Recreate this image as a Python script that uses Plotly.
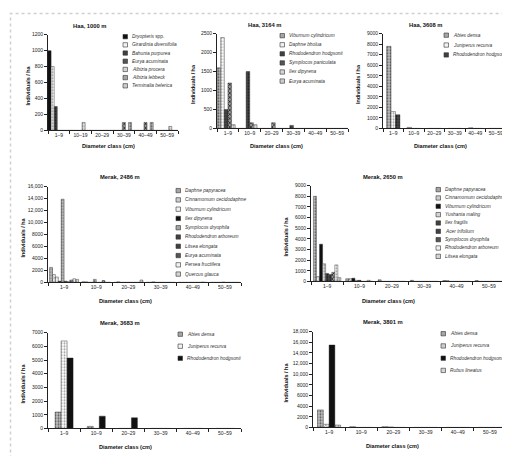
import plotly.graph_objects as go

W, H = 510, 456

# ---------------- data ----------------
cats_haa1000 = ["1–9", "10–19", "20–29", "30–39", "40–49", "50–59"]
cats_merak = ["1–9", "10–9", "20–29", "30–39", "40–49", "50–59"]

haa1000_species = ["<i>Dryopteris</i> spp.", "<i>Girardinia diversifolia</i>", "<i>Bahunia purpurea</i>",
                   "<i>Eurya acuminata</i>", "<i>Albizia procera</i>", "<i>Albizia lebbeck</i>",
                   "<i>Terminalia belerica</i>"]
haa1000_values = [[1000, 0, 0, 0, 0, 0], [800, 0, 0, 0, 0, 0], [300, 0, 0, 0, 0, 0],
                  [0, 0, 0, 100, 100, 0], [0, 100, 0, 0, 0, 50], [0, 0, 0, 100, 100, 0],
                  [0, 0, 0, 0, 0, 0]]
haa1000_styles = ["black", "white", "dark", "checker", "light", "gray", "hatch"]
haa1000_ticks = [0, 200, 400, 600, 800, 1000, 1200]

haa3164_species = ["<i>Viburnum cylindricum</i>", "<i>Daphne bholua</i>", "<i>Rhododendron hodgsonii</i>",
                   "<i>Symplocos paniculata</i>", "<i>Ilex dipyrena</i>", "<i>Eurya acuminata</i>"]
haa3164_values = [[1600, 0, 0, 0, 0, 0], [2400, 0, 0, 0, 0, 0], [500, 1500, 0, 80, 0, 0],
                  [1200, 150, 150, 0, 0, 0], [100, 100, 0, 0, 0, 0], [0, 0, 0, 0, 0, 0]]
haa3164_styles = ["gray", "white", "dark", "checker", "light", "hatch"]
haa3164_ticks = [0, 500, 1000, 1500, 2000, 2500]

haa3608_species = ["<i>Abies densa</i>", "<i>Juniperus recurva</i>", "<i>Rhododendron hodgsonii</i>"]
haa3608_values = [[7800, 100, 0, 0, 60, 0], [1600, 0, 0, 0, 0, 0], [1300, 0, 0, 0, 0, 0]]
haa3608_styles = ["gray", "white", "dark"]
haa3608_ticks = [0, 1000, 2000, 3000, 4000, 5000, 6000, 7000, 8000, 9000]

merak2486_species = ["<i>Daphne papyracea</i>", "<i>Cinnamomum cecidodaphne</i>", "<i>Viburnum cylindricum</i>",
                     "<i>Ilex dipyrena</i>", "<i>Symplocos dryophila</i>", "<i>Rhododendron arboreum</i>",
                     "<i>Litsea elongata</i>", "<i>Eurya acuminata</i>", "<i>Persea fructifera</i>",
                     "<i>Quercus glauca</i>"]
merak2486_values = [[2500, 100, 0, 0, 0, 0], [1300, 100, 100, 0, 0, 0], [900, 0, 0, 100, 0, 0],
                    [200, 0, 0, 0, 0, 0], [13900, 500, 0, 0, 0, 60], [200, 0, 0, 0, 0, 0],
                    [100, 0, 0, 0, 0, 0], [400, 300, 0, 0, 0, 0], [600, 0, 0, 0, 60, 0],
                    [500, 0, 400, 0, 0, 0]]
merak2486_styles = ["gray", "hatch", "white", "black", "gray", "dark", "dark", "checker", "white", "light"]
merak2486_ticks = [0, 2000, 4000, 6000, 8000, 10000, 12000, 14000, 16000]
merak2486_ticktext = ["0", "2000", "4000", "6000", "8000", "10,000", "12,000", "14,000", "16,000"]

merak2650_species = ["<i>Daphne papyracea</i>", "<i>Cinnamomum cecidodaphne</i>", "<i>Viburnum cylindricum</i>",
                     "<i>Yushania maling</i>", "<i>Ilex fragilis</i>", "<i>Acer trifolium</i>",
                     "<i>Symplocos dryophila</i>", "<i>Rhododendron arboreum</i>", "<i>Litsea elongata</i>"]
merak2650_values = [[8000, 250, 150, 100, 80, 80], [450, 250, 0, 0, 80, 0], [3500, 300, 0, 0, 0, 0],
                    [1650, 100, 0, 0, 0, 0], [750, 100, 0, 0, 0, 0], [650, 0, 0, 0, 0, 0],
                    [850, 0, 0, 0, 0, 0], [1550, 100, 0, 0, 0, 0], [350, 0, 0, 0, 0, 0]]
merak2650_styles = ["gray", "hatch", "black", "light", "dark", "dark", "checker", "white", "light"]
merak2650_ticks = [0, 1000, 2000, 3000, 4000, 5000, 6000, 7000, 8000, 9000]

merak3683_species = ["<i>Abies densa</i>", "<i>Juniperus recurva</i>", "<i>Rhododendron hodgsonii</i>"]
merak3683_values = [[1200, 150, 0, 0, 0, 0], [6400, 0, 0, 0, 0, 0], [5150, 900, 780, 0, 0, 0]]
merak3683_styles = ["gray", "white", "black"]
merak3683_ticks = [0, 1000, 2000, 3000, 4000, 5000, 6000, 7000]

merak3801_species = ["<i>Abies densa</i>", "<i>Juniperus recurva</i>", "<i>Rhododendron hodgsonii</i>",
                     "<i>Rubus lineatus</i>"]
merak3801_values = [[3300, 150, 150, 0, 0, 0], [600, 0, 100, 0, 0, 0], [15500, 0, 0, 0, 0, 0],
                    [450, 0, 0, 0, 0, 0]]
merak3801_styles = ["gray", "hatch", "black", "light"]
merak3801_ticks = [0, 2000, 4000, 6000, 8000, 10000, 12000, 14000, 16000, 18000]
merak3801_ticktext = ["0", "2000", "4000", "6000", "8000", "10,000", "12,000", "14,000", "16,000", "18,000"]

# ---------------- styles / layout ----------------
FONT = "Liberation Sans, Arial, sans-serif"
TICK = 5.0
LEG = 4.8
STYLE = {
    "black": dict(bg="#111111", shape="", fg="#111111", sw="#111111"),
    "dark": dict(bg="#4a4a4a", shape=".", fg="#1a1a1a", sw="#404040"),
    "gray": dict(bg="#c0c0c0", shape=".", fg="#555555", sw="#a5a5a5"),
    "white": dict(bg="#ffffff", shape=".", fg="#9a9a9a", sw="#f2f2f2"),
    "light": dict(bg="#e4e4e4", shape=".", fg="#8a8a8a", sw="#d4d4d4"),
    "hatch": dict(bg="#ececec", shape="x", fg="#888888", sw="#cdcdcd"),
    "checker": dict(bg="#9a9a9a", shape="x", fg="#000000", sw="#555555"),
}

panels = [
    dict(title="Haa, 1000 m", cats=cats_haa1000, sp=haa1000_species, vals=haa1000_values, st=haa1000_styles,
         ymax=1200, tv=haa1000_ticks, tt=None, box=(40, 24, 170, 121), gap=0.0,
         txy=(82, 15), ytx=20, xtxy=(100, 137), leg=(115, 26, 8.3)),
    dict(title="Haa, 3164 m", cats=cats_merak, sp=haa3164_species, vals=haa3164_values, st=haa3164_styles,
         ymax=2500, tv=haa3164_ticks, tt=None, box=(209, 23, 340, 119), gap=0.0,
         txy=(257, 14), ytx=185, xtxy=(268, 137), leg=(272, 25, 9.2)),
    dict(title="Haa, 3608 m", cats=cats_merak, sp=haa3608_species, vals=haa3608_values, st=haa3608_styles,
         ymax=9000, tv=haa3608_ticks, tt=None, box=(375, 23, 498, 119), gap=0.35,
         txy=(418, 14), ytx=350, xtxy=(432, 137), leg=(436, 24.5, 10)),
    dict(title="Merak, 2486 m", cats=cats_merak, sp=merak2486_species, vals=merak2486_values, st=merak2486_styles,
         ymax=16000, tv=merak2486_ticks, tt=merak2486_ticktext, box=(40, 178, 233, 275), gap=0.1,
         txy=(112, 168), ytx=15, xtxy=(117, 294), leg=(168, 182, 9.4)),
    dict(title="Merak, 2650 m", cats=cats_merak, sp=merak2650_species, vals=merak2650_values, st=merak2650_styles,
         ymax=9000, tv=merak2650_ticks, tt=None, box=(303, 177, 497, 274), gap=0.15,
         txy=(375, 168), ytx=278, xtxy=(380, 294), leg=(428, 181, 8.45)),
    dict(title="Merak, 3683 m", cats=cats_merak, sp=merak3683_species, vals=merak3683_values, st=merak3683_styles,
         ymax=7000, tv=merak3683_ticks, tt=None, box=(40, 326, 233, 423), gap=0.44,
         txy=(112, 316), ytx=15, xtxy=(117, 442), leg=(170, 327.5, 12.2)),
    dict(title="Merak, 3801 m", cats=cats_merak, sp=merak3801_species, vals=merak3801_values, st=merak3801_styles,
         ymax=18000, tv=merak3801_ticks, tt=merak3801_ticktext, box=(305, 325, 498, 422), gap=0.28,
         txy=(375, 315), ytx=278, xtxy=(384, 441), leg=(433, 327, 12.4)),
]


def px(x):
    return x / W


def py(y):
    return 1 - y / H


fig = go.Figure()
annotations = []
shapes = []

for k, p in enumerate(panels, start=1):
    xa = "x" if k == 1 else f"x{k}"
    ya = "y" if k == 1 else f"y{k}"
    n = len(p["sp"])
    grp = 1 - p["gap"]
    w = grp / n
    for i, (name, vals, st) in enumerate(zip(p["sp"], p["vals"], p["st"])):
        s = STYLE[st]
        marker = dict(color=s["bg"], line=dict(color="#222222", width=0.4))
        if s["shape"]:
            marker["pattern"] = dict(shape=s["shape"], fgcolor=s["fg"], bgcolor=s["bg"],
                                     size=3, solidity=0.35, fillmode="replace")
        fig.add_trace(go.Bar(x=p["cats"], y=vals, name=name, xaxis=xa, yaxis=ya,
                             width=w, offset=-grp / 2 + i * w, marker=marker,
                             showlegend=False))
    x0, y0, x1, y1 = p["box"]
    axkey = "xaxis" if k == 1 else f"xaxis{k}"
    aykey = "yaxis" if k == 1 else f"yaxis{k}"
    fig.layout[axkey] = dict(domain=[px(x0), px(x1)], anchor=ya, type="category",
                             categoryorder="array", categoryarray=p["cats"],
                             range=[-0.5, 5.5], showline=True, linecolor="#222", linewidth=0.8,
                             ticks="outside", ticklen=3, tickwidth=0.8, tickcolor="#222",
                             tickson="boundaries", showgrid=False, zeroline=False, tickangle=0,
                             tickfont=dict(size=TICK, color="#222", family=FONT))
    yax = dict(domain=[py(y1), py(y0)], anchor=xa, range=[0, p["ymax"]],
               showline=True, linecolor="#222", linewidth=0.8,
               ticks="outside", ticklen=3, tickwidth=0.8, tickcolor="#222",
               showgrid=False, zeroline=False, tickvals=p["tv"],
               tickfont=dict(size=TICK, color="#222", family=FONT))
    if p["tt"]:
        yax["ticktext"] = p["tt"]
    fig.layout[aykey] = yax

    annotations.append(dict(text=f"<b>{p['title']}</b>", x=px(p["txy"][0]), y=py(p["txy"][1]),
                            xref="paper", yref="paper", showarrow=False, xanchor="center", yanchor="middle",
                            font=dict(size=5.8, color="#111", family=FONT)))
    annotations.append(dict(text="<b>Diameter class (cm)</b>", x=px(p["xtxy"][0]), y=py(p["xtxy"][1]),
                            xref="paper", yref="paper", showarrow=False, xanchor="center", yanchor="middle",
                            font=dict(size=5.6, color="#111", family=FONT)))
    annotations.append(dict(text="<b>Individuals / ha</b>", x=px(p["ytx"]), y=py((y0 + y1) / 2 + 3),
                            xref="paper", yref="paper", showarrow=False, xanchor="center", yanchor="middle",
                            textangle=-90, font=dict(size=5.4, color="#111", family=FONT)))
    lx, ly, dy = p["leg"]
    for i, (name, st) in enumerate(zip(p["sp"], p["st"])):
        cy = ly + i * dy
        shapes.append(dict(type="rect", xref="paper", yref="paper",
                           x0=px(lx), x1=px(lx + 4.5), y0=py(cy + 2.2), y1=py(cy - 2.2),
                           fillcolor=STYLE[st]["sw"], line=dict(color="#333", width=0.6)))
        annotations.append(dict(text=name, x=px(lx + 7), y=py(cy), xref="paper", yref="paper",
                                showarrow=False, xanchor="left", yanchor="middle",
                                font=dict(size=LEG, color="#333", family=FONT)))

shapes.append(dict(type="rect", xref="paper", yref="paper", x0=px(2.5), x1=px(507.5), y0=py(452.5), y1=py(2.5),
                   line=dict(color="#cfcfcf", width=1.5, dash="dot"), fillcolor="rgba(0,0,0,0)"))

fig.update_layout(width=W, height=H, margin=dict(l=0, r=0, t=0, b=0),
                  paper_bgcolor="white", plot_bgcolor="white", barmode="overlay",
                  showlegend=False, annotations=annotations, shapes=shapes,
                  font=dict(family=FONT))

fig.write_html("out.html")
